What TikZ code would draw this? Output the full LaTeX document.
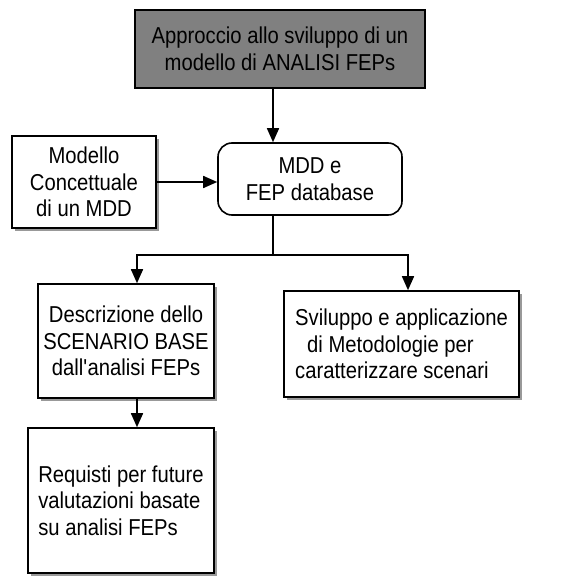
\documentclass[tikz,border=0pt]{standalone}
\usepackage{fontspec}
\setmainfont{Liberation Sans}[FakeStretch=0.88]
\usetikzlibrary{arrows.meta,shadows}

\begin{document}
\begin{tikzpicture}[x=1pt,y=-1pt,>={Triangle[length=14pt,width=12pt]},line width=1.6pt,
	box/.style={draw,rectangle,inner sep=0pt,font=\fontsize{23}{26.5}\selectfont},
	shade/.style={drop shadow={shadow xshift=2.5pt,shadow yshift=-2.5pt,fill=black!40,opacity=1}}]

\useasboundingbox (0,0) rectangle (583,575);

\node[box,fill=black!50,align=center,minimum width=290pt,minimum height=78pt]   (approccio) at (280,49)  {Approccio allo sviluppo di un\\modello di ANALISI FEPs};
\node[box,rounded corners=14pt,align=center,minimum width=184pt,minimum height=72pt]   (mdd) at (310,179)  {MDD e\\FEP database};
\node[box,shade,fill=white,align=center,minimum width=144pt,minimum height=92pt]   (modello) at (84,182)  {Modello\\Concettuale\\di un MDD};
 \node[box,shade,fill=white,align=center,minimum width=176pt,minimum height=114pt]   (scenario) at (126,341)  {Descrizione dello\\SCENARIO BASE\\dall\textquotesingle analisi FEPs};
 \node[box,shade,fill=white,align=left,minimum width=235pt,minimum height=106pt]   (metodi) at (401.5,344)  {Sviluppo e applicazione\\\hspace*{12pt}di Metodologie per\\caratterizzare scenari};
\node[box,shade,fill=white,align=left,minimum width=186pt,minimum height=145pt]   (requisti) at (121,500.5)  {Requisti per future\\valutazioni basate\\su analisi FEPs};

\coordinate (axis) at (273,0);
\coordinate (split) at (273,255);
\coordinate (lcol) at (137,255);
\coordinate (rcol) at (408,255);

	\path[->] (approccio.south -| axis)  edge	(mdd.north -| axis)
				(modello.east)  edge	(modello.east -| mdd.west)
				(lcol)  edge	(scenario.north -| lcol)
				(rcol)  edge	(metodi.north -| rcol)
				(scenario.south -| lcol)  edge	(requisti.north -| lcol);
	\draw[line cap=rect] (mdd.south -| axis) -- (split)
				(lcol) -- (rcol);
\end{tikzpicture}
\end{document}
